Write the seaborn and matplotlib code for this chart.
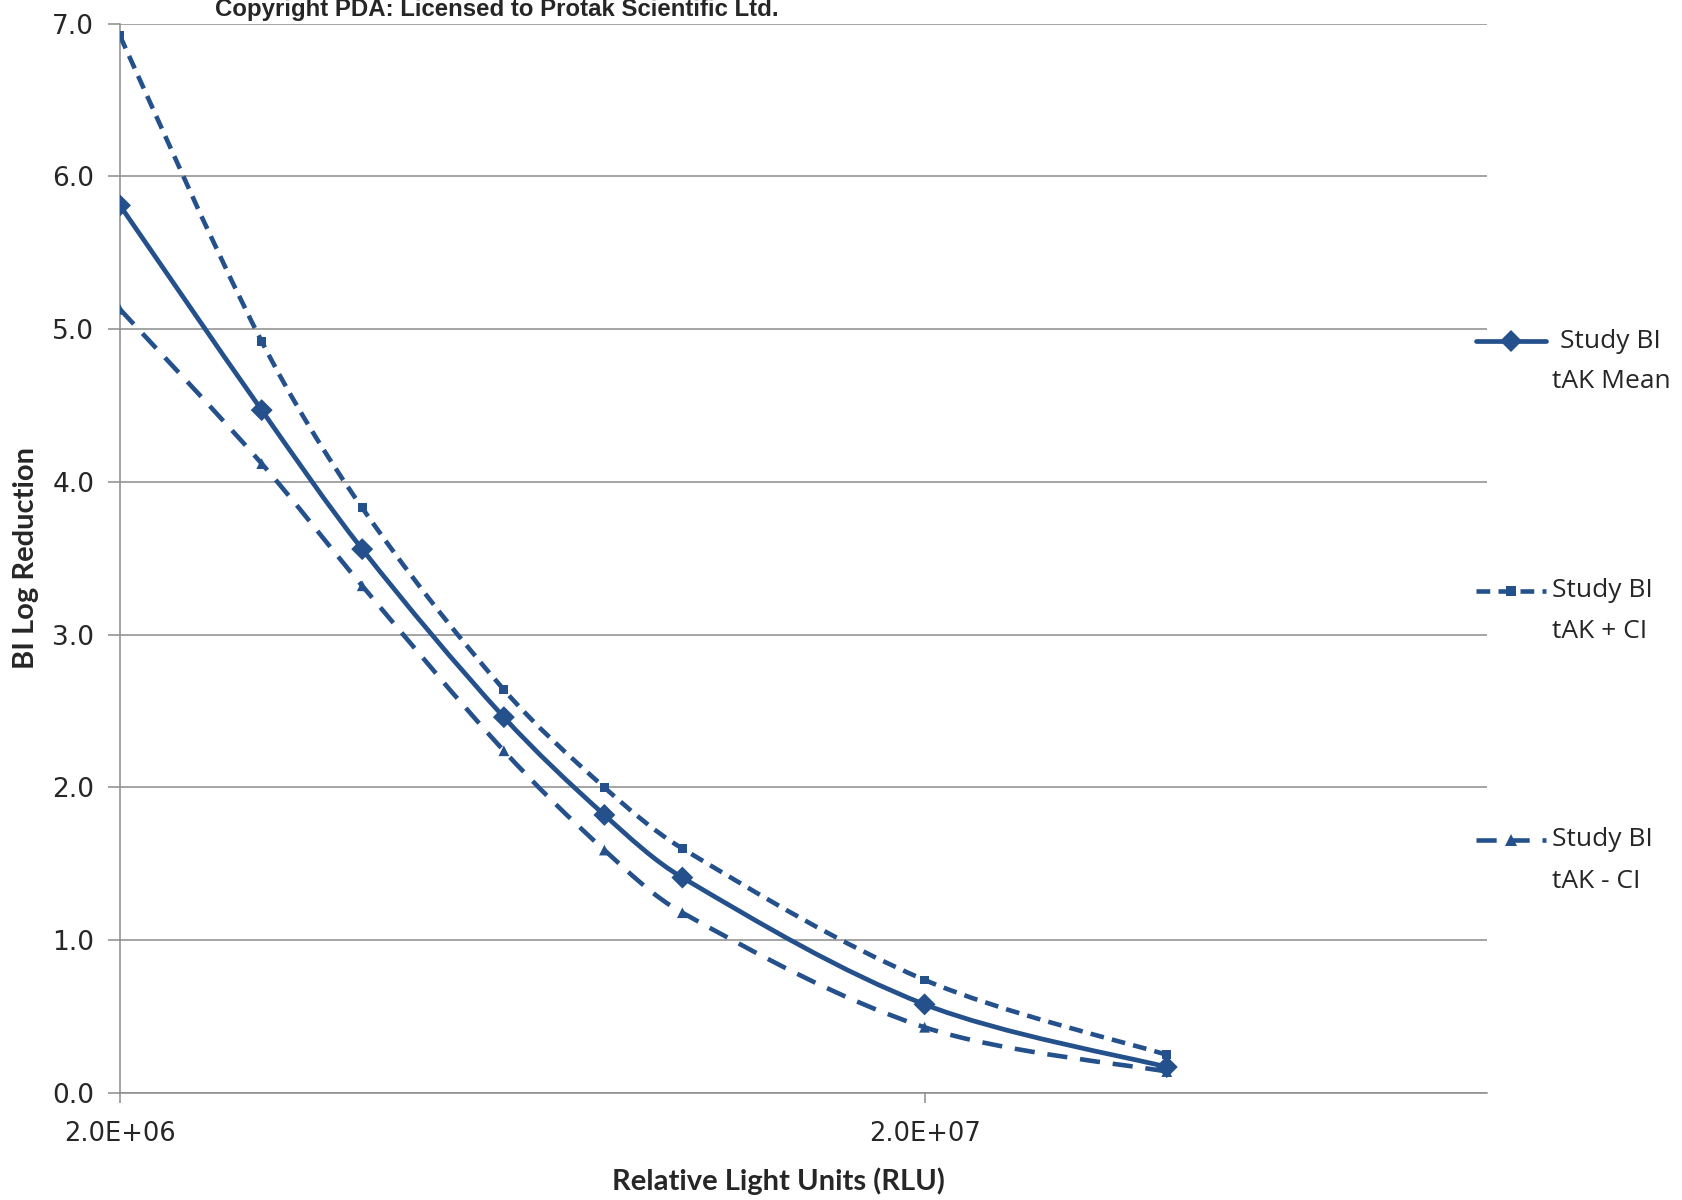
import matplotlib
matplotlib.use("Agg")

import matplotlib.pyplot as plt
import numpy as np
import pandas as pd
import seaborn as sns
from matplotlib.lines import Line2D
from matplotlib.patches import PathPatch
from matplotlib.path import Path
from matplotlib.ticker import NullLocator

# --- data ------------------------------------------------------------------
rlu = [2.0e6, 3.0e6, 4.0e6, 6.0e6, 8.0e6, 1.0e7, 2.0e7, 4.0e7]
mean_lr = [5.81, 4.47, 3.56, 2.46, 1.82, 1.41, 0.58, 0.17]
upper_ci = [6.92, 4.92, 3.83, 2.64, 2.00, 1.60, 0.74, 0.25]
lower_ci = [5.13, 4.12, 3.32, 2.24, 1.59, 1.18, 0.43, 0.14]

series_names = ["Study BI\ntAK Mean", "Study BI\ntAK + CI", "Study BI\ntAK - CI"]
x_ticks = [2.0e6, 2.0e7]
x_tick_labels = ["2.0E+06", "2.0E+07"]
y_ticks = [0, 1, 2, 3, 4, 5, 6, 7]

BLUE = "#24508C"
GRID = "#8C8C8C"


def smooth_path(ax, xs, ys):
    """Excel-like smoothed line: cubic Bezier segments whose control points
    come from chord-weighted tangents in display space."""
    disp = ax.transData.transform(np.column_stack([xs, ys]))
    n = len(disp)
    seg = np.linalg.norm(np.diff(disp, axis=0), axis=1)
    verts, codes = [disp[0]], [Path.MOVETO]
    for i in range(n - 1):
        p0, p1 = disp[max(i - 1, 0)], disp[i]
        p2, p3 = disp[i + 1], disp[min(i + 2, n - 1)]
        la = seg[i - 1] if i > 0 else seg[i]
        lb = seg[i]
        lc = seg[i + 1] if i + 1 < n - 1 else seg[i]
        c1 = p1 + (p2 - p0) * lb / (la + lb) / 3
        c2 = p2 - (p3 - p1) * lb / (lb + lc) / 3
        verts += [c1, c2, p2]
        codes += [Path.CURVE4] * 3
    data = ax.transData.inverted().transform(np.array(verts))
    return Path(data, codes)


sns.set_style("white")
plt.rcParams["font.family"] = ["Lato", "DejaVu Sans"]

fig = plt.figure(figsize=(16.83, 12), dpi=100)
ax = fig.add_axes([0.0713, 0.0892, 0.8122, 0.8911])
ax.set_xscale("log")
ax.set_xlim(2.0e6, 1.0e8)
ax.set_ylim(0, 7)

styles = [
    dict(lw=3.4, ls="-", marker="D", ms=11),
    dict(lw=3.3, ls=(0, (3.0, 1.8)), marker="s", ms=6.5),
    dict(lw=3.3, ls=(0, (4.4, 2.8)), marker="^", ms=8),
]
series = [mean_lr, upper_ci, lower_ci]

for vals, st in zip(series, styles):
    patch = PathPatch(smooth_path(ax, rlu, vals), facecolor="none", edgecolor=BLUE,
                      lw=st["lw"], linestyle=st["ls"], capstyle="butt",
                      transform=ax.transData, zorder=3)
    ax.add_patch(patch)

df = pd.DataFrame({
    "rlu": rlu * 3,
    "lr": mean_lr + upper_ci + lower_ci,
    "series": sum([[n] * len(rlu) for n in series_names], []),
})
sns.scatterplot(
    data=df, x="rlu", y="lr", hue="series", style="series",
    palette=[BLUE] * 3,
    markers={series_names[0]: "D", series_names[1]: "s", series_names[2]: "^"},
    size="series", sizes={series_names[0]: 125, series_names[1]: 40, series_names[2]: 60},
    edgecolor=BLUE, linewidth=0, legend=False, ax=ax, zorder=4,
)

ax.set_xscale("log")
ax.set_xlim(2.0e6, 1.0e8)
ax.set_ylim(0, 7)
ax.set_xticks(x_ticks)
ax.set_xticklabels(x_tick_labels, family="DejaVu Sans")
ax.xaxis.set_minor_locator(NullLocator())
ax.set_yticks(y_ticks)
ax.set_yticklabels([f"{v:.1f}" for v in y_ticks], family="DejaVu Sans")

ax.grid(axis="y", color=GRID, lw=1.1)
ax.grid(axis="x", visible=False)
for side in ["top", "right"]:
    ax.spines[side].set_visible(False)
for side in ["left", "bottom"]:
    ax.spines[side].set_color(GRID)
    ax.spines[side].set_linewidth(1.1)

ax.tick_params(axis="y", which="major", direction="out", length=8.5, width=1.1,
               color=GRID, pad=10, labelsize=19, left=True)
ax.tick_params(axis="x", which="major", direction="out", length=7, width=1.1,
               color=GRID, pad=13, labelsize=18.5, bottom=True)

ax.set_xlabel("Relative Light Units (RLU)", fontsize=21, fontweight="bold")
ax.xaxis.set_label_coords(0.482, -0.070)
ax.set_ylabel("BI Log Reduction", fontsize=21, fontweight="bold")
ax.yaxis.set_label_coords(-0.059, 0.5)

# legend drawn as free entries on the right, handle level with the first line
leg_y = [1 - 341 / 1200, 1 - 591 / 1200, 1 - 840 / 1200]
x0, x1 = 1476 / 1683, 1546 / 1683
for name, st, y in zip(series_names, styles, leg_y):
    fig.add_artist(Line2D([x0, x1], [y, y], transform=fig.transFigure, color=BLUE,
                          lw=st["lw"], ls=st["ls"], dash_capstyle="butt"))
    fig.add_artist(Line2D([(x0 + x1) / 2], [y], transform=fig.transFigure,
                          color=BLUE, marker=st["marker"], ms=st["ms"], ls="none",
                          mew=0))
    first, second = name.split("\n")
    lead = 8 if "Mean" in name else 0
    fig.text((1552 + lead) / 1683, y, first, ha="left", va="center",
             fontsize=19, family=["Open Sans", "DejaVu Sans"])
    fig.text(1552 / 1683, y - 41 / 1200, second, ha="left", va="center",
             fontsize=19, family=["Open Sans", "DejaVu Sans"])

fig.text(215 / 1683, 1 - 16 / 1200, "Copyright PDA: Licensed to Protak Scientific Ltd.",
         ha="left", va="baseline", fontsize=17.3, fontweight="bold",
         family=["Liberation Sans Narrow", "Liberation Sans", "DejaVu Sans"])

fig.savefig("out.png", dpi=100)
plt.close(fig)
